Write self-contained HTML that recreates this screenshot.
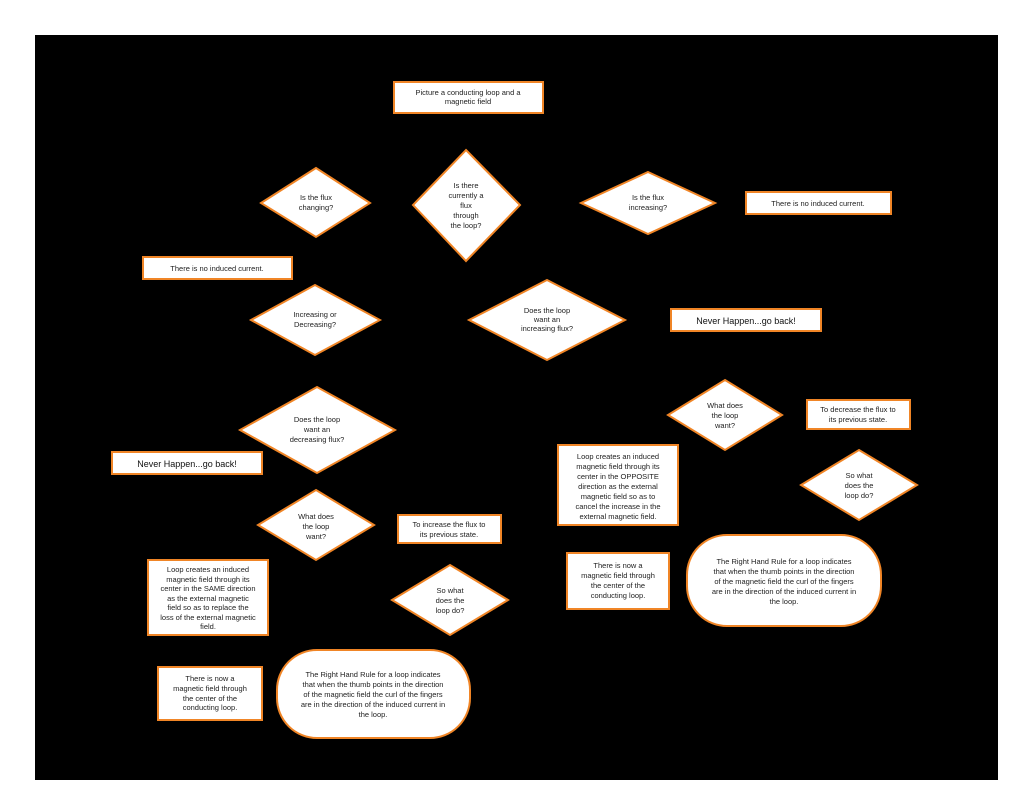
<!DOCTYPE html>
<html><head><meta charset="utf-8"><style>
html,body{margin:0;padding:0;background:#fff;}
svg{display:block;}
text{font-family:"Liberation Sans",sans-serif;font-size:7.5px;fill:#222;text-anchor:middle;}
.s{fill:#fff;stroke:#f08526;stroke-width:2;}
.b{font-size:9px;fill:#111;}
</style></head><body>
<svg width="1034" height="799" viewBox="0 0 1034 799" xmlns="http://www.w3.org/2000/svg">
<rect x="35" y="35" width="963" height="745" fill="#000"/>
<!-- top box -->
<rect class="s" x="394" y="82" width="149" height="31"/>
<text x="468" y="95">Picture a conducting loop and a</text><text x="468" y="104">magnetic field</text>
<!-- center diamond -->
<polygon class="s" points="466,150 520,205 466,261 413,205"/>
<text x="466" y="188">Is there</text><text x="466" y="198">currently  a</text><text x="466" y="208">flux</text><text x="466" y="218">through</text><text x="466" y="228">the loop?</text>
<!-- flux changing -->
<polygon class="s" points="316,168 370,203 316,237 261,203"/>
<text x="316" y="200">Is the flux</text><text x="316" y="210">changing?</text>
<!-- flux increasing -->
<polygon class="s" points="648,172 715,203 648,234 581,203"/>
<text x="648" y="200">Is the flux</text><text x="648" y="210">increasing?</text>
<rect class="s" x="746" y="192" width="145" height="22"/>
<text x="818" y="206">There is no induced current.</text>
<rect class="s" x="143" y="257" width="149" height="22"/>
<text x="217" y="271">There is no induced current.</text>
<!-- increasing or decreasing -->
<polygon class="s" points="315,285 380,320 315,355 251,320"/>
<text x="315" y="317">Increasing or</text><text x="315" y="327">Decreasing?</text>
<polygon class="s" points="547,280 625,320 547,360 469,320"/>
<text x="547" y="313">Does the loop</text><text x="547" y="322">want an</text><text x="547" y="331">increasing flux?</text>
<rect class="s" x="671" y="309" width="150" height="22"/>
<text class="b" x="746" y="324">Never Happen...go back!</text>
<!-- decreasing flux -->
<polygon class="s" points="317,387 395,430 317,473 240,430"/>
<text x="317" y="422">Does the loop</text><text x="317" y="432">want an</text><text x="317" y="442">decreasing flux?</text>
<rect class="s" x="112" y="452" width="150" height="22"/>
<text class="b" x="187" y="467">Never Happen...go back!</text>
<!-- right what does the loop want -->
<polygon class="s" points="725,380 782,415 725,450 668,415"/>
<text x="725" y="408">What does</text><text x="725" y="418">the loop</text><text x="725" y="428">want?</text>
<rect class="s" x="807" y="400" width="103" height="29"/>
<text x="858" y="412">To decrease the flux to</text><text x="858" y="422">its previous state.</text>
<rect class="s" x="558" y="445" width="120" height="80"/>
<text x="618" y="459">Loop creates an induced</text><text x="618" y="469">magnetic field through its</text><text x="618" y="479">center in the OPPOSITE</text><text x="618" y="489">direction as the external</text><text x="618" y="499">magnetic field so as to</text><text x="618" y="509">cancel the increase in the</text><text x="618" y="519">external magnetic field.</text>
<polygon class="s" points="859,450 917,485 859,520 801,485"/>
<text x="859" y="478">So what</text><text x="859" y="488">does the</text><text x="859" y="498">loop do?</text>
<rect class="s" x="567" y="553" width="102" height="56"/>
<text x="618" y="568">There is now a</text><text x="618" y="578">magnetic field through</text><text x="618" y="588">the center of the</text><text x="618" y="598">conducting loop.</text>
<rect class="s" x="687" y="535" width="194" height="91" rx="40" ry="40"/>
<text x="784" y="564">The Right Hand Rule for a loop indicates</text><text x="784" y="574">that when the thumb points in the direction</text><text x="784" y="584">of the magnetic field the curl of the fingers</text><text x="784" y="594">are in the direction of the induced current in</text><text x="784" y="604">the loop.</text>
<!-- left what does the loop want -->
<polygon class="s" points="316,490 374,525 316,560 258,525"/>
<text x="316" y="519">What does</text><text x="316" y="529">the loop</text><text x="316" y="539">want?</text>
<rect class="s" x="398" y="515" width="103" height="28"/>
<text x="449" y="527">To increase the flux to</text><text x="449" y="537">its previous state.</text>
<rect class="s" x="148" y="560" width="120" height="75"/>
<text x="208" y="572">Loop creates an induced</text><text x="208" y="582">magnetic field through its</text><text x="208" y="591">center in the SAME direction</text><text x="208" y="601">as the external magnetic</text><text x="208" y="610">field so as to replace the</text><text x="208" y="620">loss of the external magnetic</text><text x="208" y="629">field.</text>
<polygon class="s" points="450,565 508,600 450,635 392,600"/>
<text x="450" y="593">So what</text><text x="450" y="603">does the</text><text x="450" y="613">loop do?</text>
<rect class="s" x="158" y="667" width="104" height="53"/>
<text x="210" y="681">There is now a</text><text x="210" y="691">magnetic field through</text><text x="210" y="701">the center of the</text><text x="210" y="710">conducting loop.</text>
<rect class="s" x="277" y="650" width="193" height="88" rx="40" ry="40"/>
<text x="373" y="677">The Right Hand Rule for a loop indicates</text><text x="373" y="687">that when the thumb points in the direction</text><text x="373" y="697">of the magnetic field the curl of the fingers</text><text x="373" y="707">are in the direction of the induced current in</text><text x="373" y="717">the loop.</text>
</svg>
</body></html>
